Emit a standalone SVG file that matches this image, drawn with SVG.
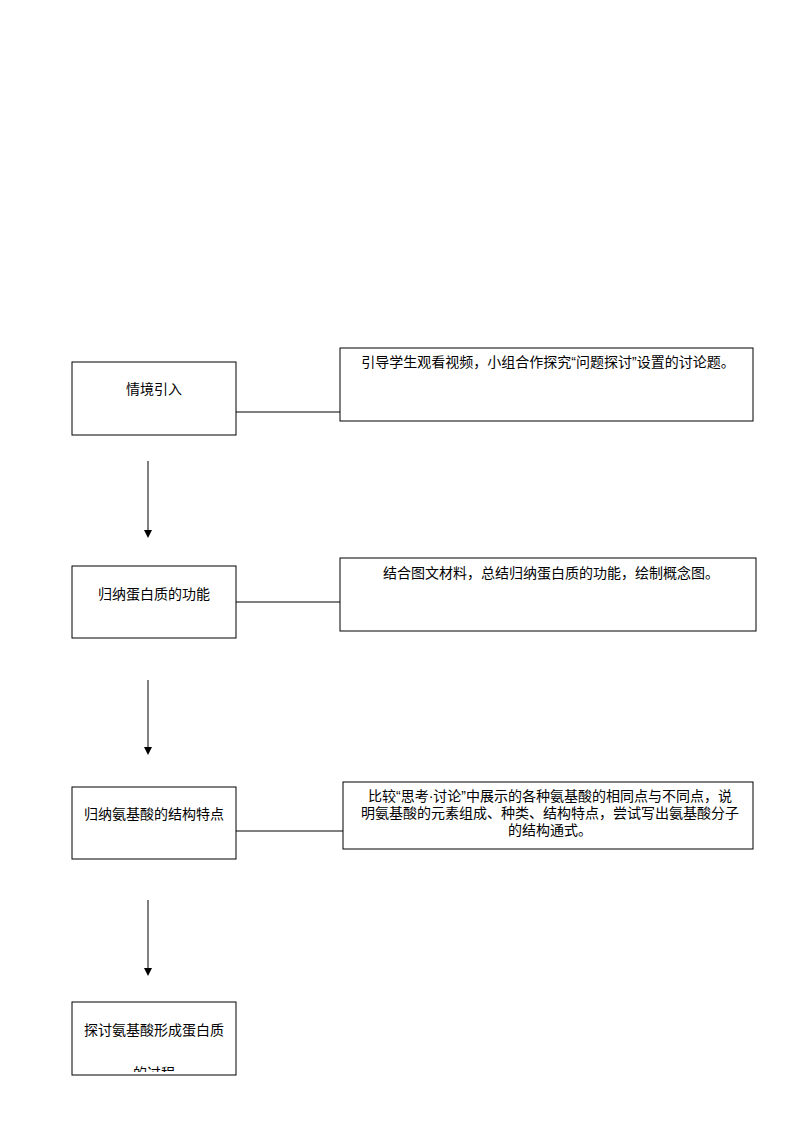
<svg xmlns="http://www.w3.org/2000/svg" width="794" height="1123" viewBox="0 0 794 1123">
<style>
.b{fill:#fff;stroke:#000;stroke-width:1}
.t{font-family:"Liberation Sans","Noto Sans CJK SC",sans-serif;font-size:14px;fill:#000}
.c{stroke:#000;stroke-width:1;fill:none}
</style>
<defs>
<clipPath id="cp"><rect x="72" y="1002" width="164" height="70"/></clipPath>
</defs>
<rect width="794" height="1123" fill="#fff"/>
<g id="connectors">
<line class="c" x1="236" y1="412" x2="340" y2="412"/>
<line class="c" x1="236" y1="602" x2="340" y2="602"/>
<line class="c" x1="236" y1="831" x2="343" y2="831"/>
<line class="c" x1="148" y1="461" x2="148" y2="530"/><path d="M144,530 L152,530 L148,538 Z"/>
<line class="c" x1="148" y1="680" x2="148" y2="747"/><path d="M144,747 L152,747 L148,755 Z"/>
<line class="c" x1="148" y1="900" x2="148" y2="968"/><path d="M144,968 L152,968 L148,976 Z"/>
</g>
<g id="n1"><rect class="b" x="72" y="362" width="164" height="73"/><text class="t" x="154" y="394" text-anchor="middle">情境引入</text></g>
<g id="n2"><rect class="b" x="72" y="566" width="164" height="72"/><text class="t" x="154" y="599" text-anchor="middle">归纳蛋白质的功能</text></g>
<g id="n3"><rect class="b" x="72" y="787" width="164" height="72"/><text class="t" x="154" y="819" text-anchor="middle">归纳氨基酸的结构特点</text></g>
<g id="n4"><rect class="b" x="72" y="1002" width="164" height="73"/><text class="t" x="154" y="1035" text-anchor="middle">探讨氨基酸形成蛋白质</text><text class="t" x="154" y="1078" text-anchor="middle" clip-path="url(#cp)">的过程</text></g>
<g id="r1"><rect class="b" x="340" y="348" width="413" height="73"/><text class="t" x="548" y="367" text-anchor="middle">引导学生观看视频，小组合作探究“问题探讨”设置的讨论题。</text></g>
<g id="r2"><rect class="b" x="340" y="558" width="416" height="73"/><text class="t" x="551" y="578" text-anchor="middle">结合图文材料，总结归纳蛋白质的功能，绘制概念图。</text></g>
<g id="r3"><rect class="b" x="343" y="782" width="410" height="67"/>
<text class="t" x="550" y="801" text-anchor="middle">比较“思考·讨论”中展示的各种氨基酸的相同点与不同点，说</text>
<text class="t" x="550" y="818" text-anchor="middle">明氨基酸的元素组成、种类、结构特点，尝试写出氨基酸分子</text>
<text class="t" x="550" y="835" text-anchor="middle">的结构通式。</text></g>
</svg>
